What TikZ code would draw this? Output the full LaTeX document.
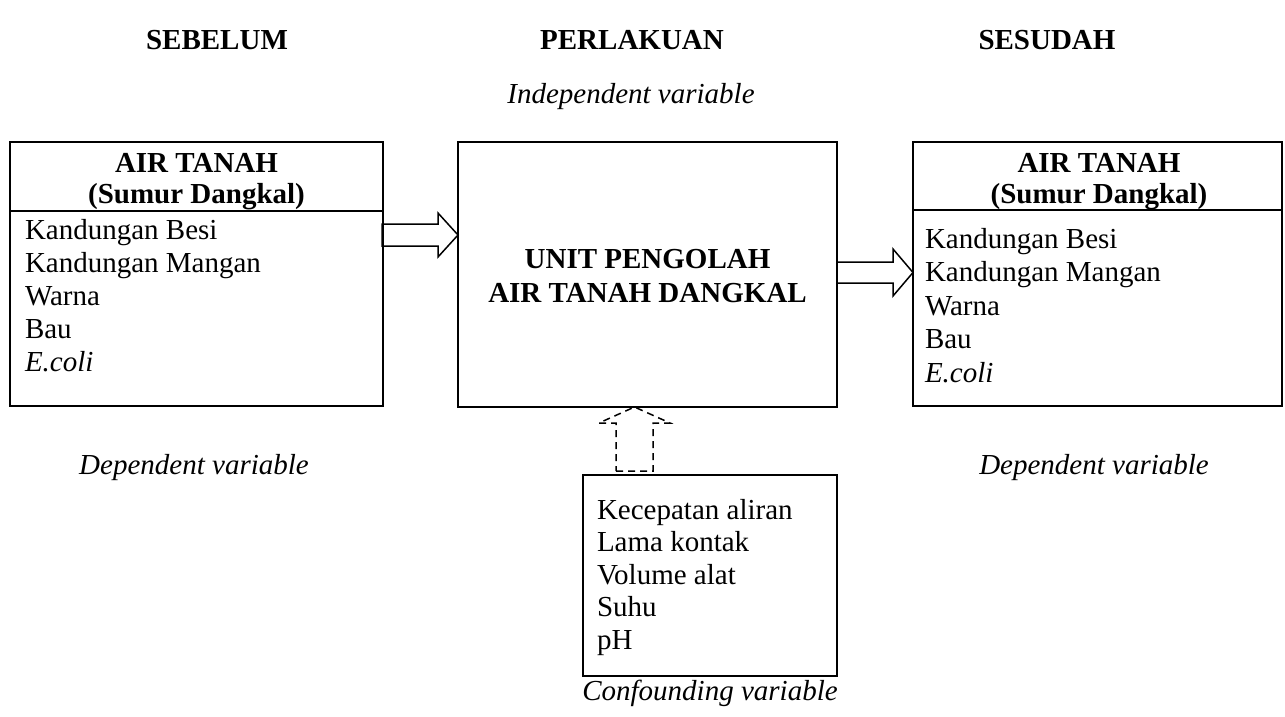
\documentclass[tikz,border=0pt]{standalone}
\usepackage{fontspec}
\setmainfont{Liberation Serif}
\usetikzlibrary{calc}
\begin{document}
\begin{tikzpicture}[x=1pt,y=-1pt,
  font=\fontsize{29}{33}\selectfont,
  box/.style={draw, line width=1.5pt, inner sep=0pt, outer sep=0pt},
  divider/.style={line width=1.5pt},
  txt/.style={inner sep=0pt, outer sep=0pt},
  lst/.style={txt, anchor=base west},
  ctr/.style={txt, anchor=base},
  blockarrow/.style={draw, line width=1.5pt, line join=miter},
  dasharrow/.style={draw, line width=1.5pt, dash pattern=on 7pt off 5pt}]
\path[use as bounding box] (0,0) rectangle (1285,717);

% headings
\node[ctr] (h1) at (217,50) {\textbf{SEBELUM}};
\node[ctr] (h2) at (632,50) {\textbf{PERLAKUAN}};
\node[ctr] (h3) at (1047,50) {\textbf{SESUDAH}};
\node[ctr] (iv) at (631,103) {\textit{Independent variable}};

% boxes
\node[box, minimum width=373pt, minimum height=264pt] (L) at (196.5,274) {};
\node[box, minimum width=379pt, minimum height=265pt] (M) at (647.5,274.5) {};
\node[box, minimum width=369pt, minimum height=264pt] (R) at (1097.5,274) {};
\node[box, minimum width=254pt, minimum height=201pt] (B) at (710,575.5) {};

\draw[divider] ($(L.north west)+(0,69)$) -- ($(L.north east)+(0,69)$);
\draw[divider] ($(R.north west)+(0,68)$) -- ($(R.north east)+(0,68)$);

% left box text
\node[ctr] (lt1) at (196.5,172) {\textbf{AIR TANAH}};
\node[ctr] (lt2) at (196.5,203) {\textbf{(Sumur Dangkal)}};
\node[lst] (l1) at (25,239) {Kandungan Besi};
\node[lst] (l2) at (25,272) {Kandungan Mangan};
\node[lst] (l3) at (25,305) {Warna};
\node[lst] (l4) at (25,338) {Bau};
\node[lst] (l5) at (25,371) {\textit{E.coli}};

% middle box text
\node[ctr] (m1) at (647.5,268) {\textbf{UNIT PENGOLAH}};
\node[ctr] (m2) at (647.5,302) {\textbf{AIR TANAH DANGKAL}};

% right box text
\node[ctr] (rt1) at (1099,172) {\textbf{AIR TANAH}};
\node[ctr] (rt2) at (1099,203) {\textbf{(Sumur Dangkal)}};
\node[lst] (r1) at (925,248) {Kandungan Besi};
\node[lst] (r2) at (925,281.5) {Kandungan Mangan};
\node[lst] (r3) at (925,315) {Warna};
\node[lst] (r4) at (925,348.5) {Bau};
\node[lst] (r5) at (925,382) {\textit{E.coli}};

% bottom box text
\node[lst] (b1) at (597,519) {Kecepatan aliran};
\node[lst] (b2) at (597,551.5) {Lama kontak};
\node[lst] (b3) at (597,584) {Volume alat};
\node[lst] (b4) at (597,616.5) {Suhu};
\node[lst] (b5) at (597,649) {pH};

% variable labels
\node[ctr] (dv1) at (194,474) {\textit{Dependent variable}};
\node[ctr] (dv2) at (1094,474) {\textit{Dependent variable}};
\node[ctr] (cv) at (710,700) {\textit{Confounding variable}};

% block arrow L -> M
\coordinate (a1s) at ($(L.east)+(0,-39)$);
\coordinate (a1t) at ($(M.west)+(0,-39.5)$);
\draw[blockarrow] ($(a1s)+(-1,-11)$) -- ($(a1t)+(-20,-11)$) -- ($(a1t)+(-20,-22)$)
  -- (a1t) -- ($(a1t)+(-20,22)$) -- ($(a1t)+(-20,11)$) -- ($(a1s)+(-1,11)$) -- cycle;

% block arrow M -> R
\coordinate (a2s) at ($(M.east)+(0,-2)$);
\coordinate (a2t) at ($(R.west)+(0,-1.5)$);
\draw[blockarrow] ($(a2s)+(0,-10.5)$) -- ($(a2t)+(-20,-10.5)$) -- ($(a2t)+(-20,-23.5)$)
  -- (a2t) -- ($(a2t)+(-20,23.5)$) -- ($(a2t)+(-20,10.5)$) -- ($(a2s)+(0,10.5)$) -- cycle;

% dashed block arrow B -> M
\coordinate (a3s) at ($(B.north)+(-75.5,-4)$);
\coordinate (a3t) at ($(M.south)+(-13,0)$);
\draw[dasharrow] ($(a3s)+(-18.5,0)$) -- ($(a3s)+(18.5,0)$) -- ($(a3t)+(18.5,16)$)
  -- ($(a3t)+(35.5,16)$) -- (a3t) -- ($(a3t)+(-35.5,16)$) -- ($(a3t)+(-18.5,16)$) -- cycle;
\end{tikzpicture}
\end{document}
